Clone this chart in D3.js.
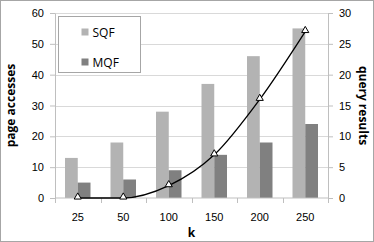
<!DOCTYPE html>
<html>
<head>
<meta charset="utf-8">
<script src="https://cdn.jsdelivr.net/npm/d3@7"></script>
<style>
  body { margin: 0; background: #fff; }
  svg { display: block; font-family: "Open Sans", "Liberation Sans", sans-serif; }
  .grid line { stroke: #d9d9d9; }
  .axis path, .axis line { stroke: #bfbfbf; }
  .axis text { fill: #000; font-size: 11px; }
  .title { font-weight: bold; font-size: 12px; fill: #000; }
</style>
</head>
<body>
<svg id="chart" width="374" height="242"></svg>
<script>
const categories = ["25", "50", "100", "150", "200", "250"];
const sqf = [13, 18, 28, 37, 46, 55];
const mqf = [5, 6, 9, 14, 18, 24];
const queryResults = [0, 0, 2, 7, 16, 27];
const leftTicks = [0, 10, 20, 30, 40, 50, 60];
const rightTicks = [0, 5, 10, 15, 20, 25, 30];

const margin = { top: 13, right: 46, bottom: 44, left: 55 };
const W = 374, H = 242;
const width = W - margin.left - margin.right;
const height = H - margin.top - margin.bottom;

const svg = d3.select("#chart");

// outer frame
svg.append("rect")
  .attr("x", 0.5).attr("y", 0.5)
  .attr("width", W - 1).attr("height", H - 1)
  .attr("fill", "none").attr("stroke", "#a6a6a6");

const g = svg.append("g").attr("transform", `translate(${margin.left},${margin.top})`);

const x = d3.scaleBand().domain(categories).range([0, width]);
const xs = d3.scaleBand().domain(["SQF", "MQF"]).range([0, 25.5]);
const y = d3.scaleLinear().domain([0, 60]).range([height, 0]);
const y2 = d3.scaleLinear().domain([0, 30]).range([height, 0]);

// gridlines
g.append("g").attr("class", "grid")
  .selectAll("line").data(leftTicks.slice(1)).join("line")
  .attr("x1", 0).attr("x2", width)
  .attr("y1", d => Math.round(y(d)) + 0.5).attr("y2", d => Math.round(y(d)) + 0.5);

// bars
const groups = g.append("g").selectAll("g").data(categories).join("g")
  .attr("transform", c => `translate(${x(c) + (x.bandwidth() - 25.5) / 2},0)`);
groups.append("rect")
  .attr("x", xs("SQF")).attr("width", xs.bandwidth())
  .attr("y", (c, i) => y(sqf[i])).attr("height", (c, i) => height - y(sqf[i]))
  .attr("fill", "#b3b3b3");
groups.append("rect")
  .attr("x", xs("MQF")).attr("width", xs.bandwidth())
  .attr("y", (c, i) => y(mqf[i])).attr("height", (c, i) => height - y(mqf[i]))
  .attr("fill", "#808080");

// axes
g.append("g").attr("class", "axis")
  .call(d3.axisLeft(y).tickValues(leftTicks).tickSize(5).tickPadding(6).tickSizeOuter(0));
g.append("g").attr("class", "axis")
  .attr("transform", `translate(${width},0)`)
  .call(d3.axisRight(y2).tickValues(rightTicks).tickSize(5).tickPadding(6).tickSizeOuter(0));

const xAxis = g.append("g").attr("class", "axis")
  .attr("transform", `translate(0,${height})`)
  .call(d3.axisBottom(x).tickSize(0).tickPadding(15));
xAxis.select(".domain").remove();
xAxis.append("line").attr("x1", 0).attr("x2", width).attr("stroke", "#bfbfbf");
xAxis.selectAll(".sep").data(d3.range(categories.length + 1)).join("line")
  .attr("class", "sep")
  .attr("x1", i => Math.round(i * x.step()) + 0.5).attr("x2", i => Math.round(i * x.step()) + 0.5)
  .attr("y1", 0).attr("y2", 5).attr("stroke", "#bfbfbf");

// query results line
const cx = (c) => x(c) + x.bandwidth() / 2;
const line = d3.line()
  .x((d, i) => cx(categories[i]))
  .y(d => y2(d))
  .curve(d3.curveMonotoneX);
g.append("path").datum(queryResults)
  .attr("d", line).attr("fill", "none").attr("stroke", "#000").attr("stroke-width", 1.3);
const tri = d3.symbol().type(d3.symbolTriangle).size(22);
g.selectAll(".pt").data(queryResults).join("path")
  .attr("class", "pt")
  .attr("transform", (d, i) => `translate(${cx(categories[i])},${y2(d) - 1})`)
  .attr("d", tri).attr("fill", "#fff").attr("stroke", "#000").attr("stroke-width", 1);

// legend
const lg = svg.append("g").attr("transform", "translate(58.5,16.5)");
lg.append("rect").attr("width", 82).attr("height", 56)
  .attr("fill", "#fff").attr("stroke", "#a6a6a6");
[["SQF", "#b3b3b3"], ["MQF", "#808080"]].forEach(([name, col], i) => {
  const row = lg.append("g").attr("transform", `translate(23,${12 + i * 30})`);
  row.append("rect").attr("width", 7).attr("height", 7).attr("y", 0).attr("fill", col);
  row.append("text").attr("x", 11).attr("y", 8).attr("font-size", "12px").text(name);
});

// axis titles
svg.append("text").attr("class", "title")
  .attr("transform", `translate(15,${margin.top + height / 2}) rotate(-90)`)
  .attr("text-anchor", "middle").text("page accesses");
svg.append("text").attr("class", "title")
  .attr("transform", `translate(359,${margin.top + height / 2}) rotate(90)`)
  .attr("text-anchor", "middle").text("query results");
svg.append("text").attr("class", "title")
  .attr("x", margin.left + width / 2).attr("y", 237)
  .attr("text-anchor", "middle").attr("font-size", "13px").text("k");
</script>
</body>
</html>
